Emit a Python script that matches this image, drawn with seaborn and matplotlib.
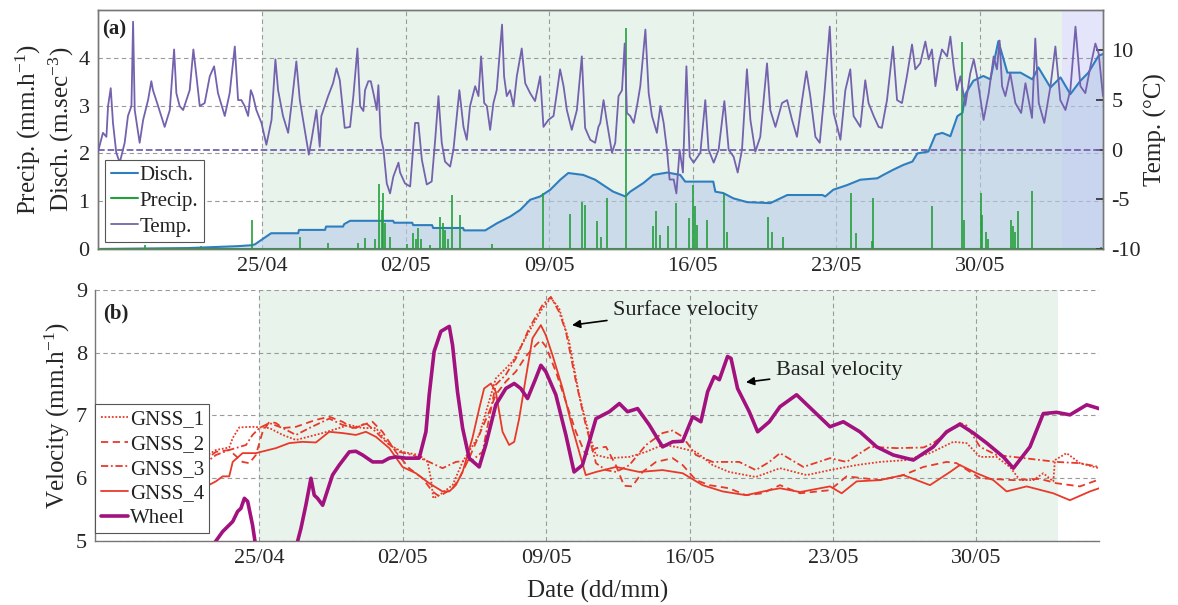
import numpy as np
import pandas as pd
import matplotlib
matplotlib.use("Agg")
import matplotlib.pyplot as plt
import matplotlib.dates as mdates
import seaborn as sns

# ---- data (time in days since 17/04 00:00) ----
t0 = pd.Timestamp("2018-04-17")

temp_day = [0, 0.24, 0.41, 0.49, 0.62, 0.73, 0.89, 1.06, 1.30, 1.46, 1.63, 1.71, 1.79, 2.03, 2.20, 2.44, 2.60, 2.68, 2.93, 3.25,
            3.50, 3.71, 3.82, 3.98, 4.15, 4.31, 4.47, 4.65, 4.80, 4.96, 5.20, 5.45, 5.66, 5.85, 6.18, 6.42, 6.67, 6.83, 6.99, 7.15,
            7.32, 7.45, 7.56, 7.72, 7.97, 8.21, 8.46, 8.65, 8.78, 9.02, 9.27, 9.46, 9.67, 9.84, 10.08, 10.28, 10.41, 10.65, 10.81, 10.89,
            11.22, 11.46, 11.63, 11.79, 12.03,
            12.29, 12.45, 12.65, 12.78, 12.94, 13.02, 13.18, 13.30, 13.46, 13.59, 13.67, 13.79, 13.92, 14.08, 14.24, 14.40, 14.65, 14.73, 14.97, 15.22,
            15.46, 15.62, 15.79, 16.03, 16.27, 16.44, 16.60, 16.76, 16.92, 17.17, 17.33, 17.46, 17.62, 17.82, 17.98, 18.14, 18.39, 18.55, 18.68, 18.83,
            18.96, 19.12, 19.28, 19.44, 19.70, 19.80, 19.93, 20.09, 20.26, 20.42, 20.66, 20.83, 21.07, 21.31, 21.56, 21.72, 21.96, 22.21, 22.37, 22.53,
            22.70, 22.86, 23.10, 23.35, 23.59, 23.75, 24.00, 24.24, 24.40,
            24.49, 24.65, 24.82, 25.06, 25.22, 25.38, 25.55, 25.68, 25.79, 25.95, 26.12, 26.28, 26.44, 26.69, 26.85, 27.01, 27.25, 27.42, 27.58, 27.74,
            27.87, 28.07, 28.20, 28.36, 28.52, 28.69, 28.85, 29.04, 29.37, 29.61, 29.77, 30.02, 30.26, 30.54, 30.75, 30.99, 31.19, 31.40, 31.64, 31.81,
            32.05, 32.29, 32.62, 32.78, 33.03, 33.35, 33.60, 33.84, 34.08, 34.33, 34.54, 34.73, 34.98, 35.19, 35.42, 35.68, 35.87, 36.20, 36.44,
            36.68, 36.84, 37.17, 37.41, 37.57, 37.82, 38.06, 38.22, 38.47, 38.76, 38.96, 39.20, 39.44, 39.69, 39.85, 40.09, 40.34, 40.50, 40.66, 40.83,
            40.99, 41.15, 41.40, 41.56, 41.72, 41.88, 42.05, 42.29, 42.53, 42.70, 42.86, 43.18, 43.43, 43.67, 43.83, 43.96, 44.08, 44.24, 44.48, 44.73,
            45.01, 45.22, 45.54, 45.70, 45.87, 46.14, 46.44, 46.68, 46.92, 47.17, 47.41, 47.66, 47.90, 48.14, 48.39, 48.63, 48.79, 49.0]
temp_c = [-0.2, 1.7, 1.3, 4.4, 6.2, 2.7, -0.3, -1.3, 0.7, 3.4, 4.4, 12.9, 4.0, 0.7, 3.0, 5.0, 6.9, 6.0, 4.4, 2.3,
          4.0, 10.1, 5.7, 4.4, 4.0, 5.0, 6.0, 10.1, 7.4, 4.4, 4.7, 7.4, 8.4, 5.7, 3.4, 5.7, 10.4, 5.0, 5.0, 4.4,
          3.4, 6.0, 5.4, 4.0, 2.7, 0.5, 3.0, 9.1, 6.0, 3.4, 1.7, 5.0, 8.9, 5.0, 2.0, -0.5, 1.0, 4.0, 0.3, 3.4,
          5.4, 6.7, 8.2, 7.0, 2.2,
          2.3, 5.4, 10.2, 4.4, 3.9, 6.0, 6.9, 6.9, 5.4, 4.0, 6.5, 1.3, 0, -3.4, -4.4, -2.7, -1.3, -2.3, -3.4, -3.7,
          2.7, 2.7, -1.0, -3.5, -3.2, 1.0, 5.4, 0.7, -1.2, -1.7, 0, 2.7, 6.0, 2.3, 1.0, 4.4, 6.4, 5.4, 9.4, 4.7,
          4.4, 2.0, 4.7, 6.0, 12.6, 7.4, 5.4, 6.0, 4.4, 7.4, 10.2, 6.7, 5.7, 4.9, 7.4, 2.3, 3.0, 3.4, 5.7, 8.1,
          6.4, 4.0, 2.0, 4.0, 9.4, 2.2, 1.0, 0.7, 2.3,
          2.7, 5.0, 2.7, -0.3, 0.7, 5.4, 6.0, 10.7, 3.7, 3.4, 2.7, 4.4, 6.4, 12.1, 5.7, 3.4, 1.7, 4.4, 2.7, 0,
          -3.0, -3.0, -4.4, 0, -2.3, 8.4, -0.7, -1.3, -0.3, 5.0, 0, -1.3, 0, 4.9, 0, -0.7, -2.3, 0, 8.1, 3.0,
          -0.2, 1.3, 8.7, 4.0, 2.3, 4.7, 5.0, 3.0, 1.3, 5.0, 7.9, 5.4, 1.3, 0.7, 5.7, 12.4, 3.7, 1.0, 6.0,
          8.1, 3.4, 2.3, 7.0, 4.7, 3.4, 2.3, 2.2, 5.0, 10.4, 5.0, 4.7, 7.4, 10.6, 8.1, 8.7, 10.9, 9.1, 10.1, 6.4,
          8.7, 10.1, 9.4, 11.4, 8.4, 6.0, 7.4, 4.5, 7.7, 9.1, 7.4, 3.0, 5.7, 9.4, 8.1, 11.0, 6.4, 5.4, 7.7, 4.7,
          3.7, 6.7, 3.2, 11.2, 4.7, 2.7, 6.4, 10.4, 5.0, 4.0, 6.0, 12.4, 6.4, 5.7, 8.4, 10.7, 9.7, 5.4]

disch_day = [0, 4.39, 6.83, 7.51, 7.66, 8.44, 9.76, 9.80, 11.07, 11.12, 11.95, 12.0, 12.29, 14.39, 14.44, 15.32, 15.37, 16.29, 16.34, 17.80,
             17.85, 18.88, 19.46, 20.10, 20.59, 21.07, 21.56, 22.05, 22.54, 22.93, 23.66, 24.24, 24.73, 25.12, 25.71, 25.95, 26.59, 27.07, 27.76, 28.39,
             28.63, 30.0, 30.1, 30.49, 30.98, 31.66, 32.78, 33.61, 35.32, 35.46, 35.85, 36.54, 37.17, 38.0, 38.29, 38.78, 39.27, 39.71, 39.95, 40.49,
             40.83, 41.17, 41.56, 41.90, 42.15, 42.29, 42.68, 43.17, 43.51, 43.90, 44.34, 44.98, 45.56, 45.85, 46.44, 46.93, 47.41, 47.90, 48.29, 48.78, 49.0]
disch_q = [0, 0.02, 0.06, 0.08, 0.1, 0.33, 0.33, 0.4, 0.4, 0.47, 0.47, 0.52, 0.59, 0.59, 0.55, 0.55, 0.5, 0.5, 0.44, 0.44,
           0.39, 0.39, 0.54, 0.68, 0.82, 1.03, 1.1, 1.24, 1.45, 1.59, 1.55, 1.45, 1.31, 1.2, 1.1, 1.2, 1.38, 1.55, 1.6, 1.55,
           1.41, 1.41, 1.2, 1.17, 1.06, 0.98, 0.96, 1.13, 1.13, 1.1, 1.24, 1.34, 1.45, 1.48, 1.55, 1.66, 1.76, 1.83, 2.0, 2.04,
           2.39, 2.43, 2.36, 2.78, 2.85, 3.24, 3.52, 3.62, 3.55, 4.35, 3.69, 3.69, 3.55, 3.80, 3.38, 3.59, 3.24, 3.52, 3.69, 4.04, 4.08]

precip_day = [2.29, 5.02, 7.51, 9.85, 11.22, 12.68, 13.02, 13.51, 13.71, 13.85, 13.90, 14.0, 14.24, 15.07, 15.37, 15.51, 15.61, 15.76, 16.2, 16.68,
              16.83, 16.93, 17.07, 17.27, 17.66, 19.22, 21.71, 23.02, 23.61, 23.76, 24.34, 24.54, 24.83, 25.76, 27.07, 27.22, 27.41, 27.80, 28.20, 28.83,
              29.02, 29.12, 29.22, 29.71, 30.54, 30.68, 32.68, 32.88, 33.41, 36.73, 36.98, 37.76, 37.80, 40.68, 42.15, 42.24, 43.07, 43.12, 43.32, 43.41,
              44.54, 44.63, 44.73, 44.88, 45.56, 48.88]
precip_mm = [0.08, 0.06, 0.6, 0.25, 0.12, 0.12, 0.24, 0.2, 1.36, 0.82, 1.18, 0.54, 0.25, 0.1, 0.33, 0.2, 0.44, 0.2, 0.08, 0.68,
             0.54, 0.4, 0.2, 1.14, 0.71, 0.1, 1.17, 0.73, 0.99, 0.92, 0.59, 0.26, 1.07, 4.62, 0.48, 0.79, 0.3, 0.48, 0.97, 0.65,
             1.34, 0.9, 0.5, 0.6, 1.15, 0.36, 0.67, 0.35, 0.26, 1.17, 0.33, 0.16, 1.06, 0.9, 4.34, 0.6, 1.17, 0.71, 0.36, 0.2,
             0.6, 0.48, 0.36, 0.79, 1.22, 0.05]

gnss1_day = [5.23, 5.88, 6.53, 6.70, 7.02, 7.67, 8.49, 9.14, 9.79, 11.09, 12.39, 13.04, 13.69, 14.34, 14.99, 15.80, 16.21, 16.37, 16.49, 16.78,
             17.43, 17.92, 18.73, 19.54, 20.36, 21.17, 21.82, 22.23, 22.63, 23.12, 23.61, 24.10, 24.43, 25.08, 26.06, 26.87, 27.68, 28.33, 29.31, 30.12,
             30.93, 32.23, 33.41, 34.71, 35.85, 37.15, 38.29, 39.59, 40.73, 41.87, 42.52, 43.17, 43.98, 44.63, 45.12, 45.77, 46.26, 46.75, 46.83, 47.40,
             48.05, 48.98]
gnss1_v = [6.32, 6.45, 6.49, 6.64, 6.81, 6.82, 6.80, 6.69, 6.61, 6.72, 6.85, 6.80, 6.80, 6.53, 6.42, 6.37, 6.26, 6.00, 5.68, 5.73,
           5.89, 6.26, 6.69, 7.59, 7.86, 8.34, 8.71, 8.87, 8.71, 8.18, 7.33, 6.69, 6.37, 6.32, 6.34, 6.42, 6.53, 6.50, 6.42, 6.21,
           6.10, 6.02, 6.16, 6.05, 6.13, 6.21, 6.26, 6.29, 6.40, 6.58, 6.56, 6.34, 6.34, 6.18, 5.97, 5.97, 6.08, 5.95, 6.29, 6.40,
           6.24, 6.16]

gnss2_day = [5.23, 5.88, 6.53, 7.18, 7.51, 7.83, 8.16, 8.49, 8.81, 9.14, 9.79, 10.76, 11.41, 12.06, 12.55, 13.04, 13.52, 14.01, 14.66, 15.31,
             15.96, 16.45, 16.78, 17.43, 17.76, 18.24, 18.73, 19.22, 19.54, 20.03, 20.52, 21.00, 21.49, 21.74, 21.98, 22.47, 22.96, 23.45, 23.93, 24.43,
             24.92, 25.41, 25.80, 26.20, 26.70, 27.36, 28.17, 28.66, 29.31, 29.96, 30.93, 31.75, 32.56, 33.41, 34.39, 35.85, 36.66, 38.29, 39.43, 40.41,
             41.54, 42.03, 43.17, 44.80, 46.10, 46.91, 48.05, 48.98]
gnss2_v = [6.26, 6.42, 6.45, 6.26, 6.24, 6.37, 6.74, 6.90, 6.88, 6.80, 6.82, 6.93, 6.98, 6.90, 6.80, 6.85, 6.90, 6.74, 6.42, 6.16,
           6.00, 5.79, 5.71, 5.84, 6.00, 6.32, 6.69, 7.06, 7.33, 7.54, 7.70, 7.94, 8.12, 8.20, 8.10, 7.70, 7.22, 6.74, 6.37, 6.48,
           6.50, 6.20, 5.88, 5.87, 6.10, 6.26, 6.32, 6.21, 5.97, 5.89, 5.84, 5.73, 5.76, 5.89, 5.76, 5.81, 6.03, 5.97, 6.05, 6.18,
           6.26, 6.24, 6.00, 5.97, 5.99, 5.92, 5.87, 5.98]

gnss3_day = [5.23, 5.88, 6.53, 7.35, 7.67, 8.00, 8.49, 9.14, 9.79, 10.44, 11.41, 12.06, 12.71, 13.20, 13.69, 14.18, 14.83, 15.48, 16.29, 16.94,
             17.59, 18.40, 18.89, 19.54, 20.03, 20.52, 21.17, 21.82, 22.23, 22.63, 22.96, 23.45, 23.93, 24.43, 24.92, 25.41, 26.06, 26.87, 27.68, 28.17,
             28.66, 29.31, 30.12, 31.42, 32.23, 32.89, 33.41, 34.55, 35.85, 36.66, 37.80, 39.10, 40.41, 40.89, 41.54, 42.19, 42.52, 43.17, 43.98, 44.80,
             46.91, 48.05, 48.98]
gnss3_v = [6.21, 6.37, 6.45, 6.53, 6.69, 6.80, 6.88, 6.80, 6.69, 6.80, 6.95, 6.85, 6.80, 6.88, 6.74, 6.58, 6.42, 6.37, 6.26, 6.16,
           6.26, 6.29, 6.42, 7.49, 7.65, 7.91, 8.39, 8.76, 8.89, 8.65, 8.34, 7.54, 6.85, 6.24, 6.13, 6.10, 6.21, 6.53, 6.72, 6.76,
           6.66, 6.37, 6.26, 6.26, 6.13, 6.26, 6.40, 6.18, 6.32, 6.26, 6.50, 6.48, 6.49, 6.56, 6.72, 6.88, 6.84, 6.50, 6.37, 6.34,
           6.26, 6.24, 6.18]

gnss4_day = [5.23, 5.88, 6.21, 6.53, 6.70, 7.18, 7.83, 8.81, 9.46, 10.11, 10.76, 11.41, 12.06, 12.71, 13.20, 13.69, 14.34, 14.99, 15.64, 16.29,
             16.94, 17.27, 17.59, 17.92, 18.40, 18.73, 18.97, 19.30, 19.54, 19.87, 20.19, 20.44, 20.68, 21.00, 21.33, 21.74, 21.98, 22.31, 22.80, 23.28,
             23.61, 23.93, 24.43, 25.41, 26.54, 27.68, 28.66, 29.63, 30.61, 31.75, 32.89, 33.41, 34.39, 35.85, 36.42, 37.15, 38.29, 39.43, 40.73, 41.71,
             42.19, 43.01, 43.82, 44.47, 45.45, 46.75, 47.56, 48.54, 48.98]
gnss4_v = [5.84, 5.95, 6.03, 6.03, 6.26, 6.40, 6.40, 6.48, 6.56, 6.58, 6.57, 6.74, 6.72, 6.69, 6.74, 6.66, 6.48, 6.18, 6.08, 5.92,
           5.79, 5.79, 5.89, 6.10, 6.64, 7.11, 7.43, 7.51, 7.38, 6.74, 6.53, 6.58, 6.95, 7.59, 8.23, 8.44, 8.28, 7.96, 7.43, 6.80,
           6.42, 6.05, 6.10, 6.18, 6.10, 6.13, 6.08, 5.89, 5.79, 5.73, 5.81, 5.84, 5.78, 5.87, 5.76, 5.95, 5.97, 6.05, 5.89, 6.10,
           6.21, 6.08, 5.97, 5.79, 5.87, 5.76, 5.65, 5.79, 5.84]

wheel_day = [5.60, 5.88, 6.21, 6.70, 6.94, 7.10, 7.27, 7.43, 7.67, 7.83, 8.50, 9.30, 9.87, 10.03, 10.27, 10.52, 10.68, 10.84, 11.09, 11.25,
             11.57, 11.90, 12.39, 12.71, 13.04, 13.53, 14.01, 14.34, 14.66, 15.15, 15.80, 16.13, 16.29, 16.53, 16.86, 17.27, 17.43, 17.67, 17.92, 18.24,
             18.73, 19.05, 19.54, 20.03, 20.44, 20.76, 21.09, 21.49, 21.74, 21.98, 22.47, 22.96, 23.36, 23.77, 24.43, 25.08, 25.57, 25.97, 26.46, 27.03,
             27.68, 28.17, 28.66, 29.15, 29.55, 29.88, 30.20, 30.45, 30.85, 31.02, 31.34, 31.91, 32.32, 32.89, 33.41, 34.22, 35.85, 36.50, 37.31, 38.13,
             38.94, 39.92, 40.89, 41.54, 42.19, 42.85, 43.50, 44.31, 44.80, 45.61, 46.26, 46.91, 47.56, 48.38, 48.98]
wheel_v = [4.85, 5.00, 5.15, 5.31, 5.47, 5.52, 5.68, 5.63, 5.25, 4.90, 4.30, 4.50, 5.00, 5.20, 5.57, 6.00, 5.73, 5.68, 5.57, 5.73,
           6.05, 6.21, 6.42, 6.43, 6.37, 6.26, 6.26, 6.32, 6.34, 6.32, 6.32, 6.74, 7.33, 8.02, 8.34, 8.42, 8.12, 7.38, 6.80, 6.32,
           6.18, 6.53, 7.17, 7.43, 7.51, 7.43, 7.27, 7.59, 7.80, 7.70, 7.33, 6.69, 6.10, 6.21, 6.95, 7.06, 7.19, 7.06, 7.11, 6.85,
           6.50, 6.58, 6.59, 6.98, 6.90, 7.38, 7.62, 7.57, 7.94, 7.91, 7.43, 7.06, 6.74, 6.90, 7.14, 7.33, 6.82, 6.90, 6.74, 6.50,
           6.37, 6.29, 6.50, 6.74, 6.86, 6.72, 6.56, 6.34, 6.16, 6.50, 7.03, 7.05, 7.01, 7.17, 7.11]

shade_days = [8, 47, 49]  # green campaign window, then end of record


def to_time(days):
    return t0 + pd.to_timedelta(np.asarray(days, dtype=float), unit="D")


sns.set_theme(style="white")
serif = ["Liberation Serif", "DejaVu Serif"]
plt.rcParams["font.family"] = serif
plt.rcParams["mathtext.fontset"] = "custom"
plt.rcParams["mathtext.rm"] = "Liberation Serif"
plt.rcParams["mathtext.it"] = "Liberation Serif:italic"
plt.rcParams["text.color"] = "#222222"
plt.rcParams["axes.unicode_minus"] = False

c_disch = "#2e7ebf"
c_fill = "#b8cbe8"
c_precip = "#23a03c"
c_temp = "#7462ae"
c_gnss = "#e8392b"
c_wheel = "#a3117e"
c_green = "#e8f4eb"
c_lav = "#e4e4fb"
c_grid = "#9a9a9a"

fig = plt.figure(figsize=(11.78, 6.05), dpi=100)
ax = fig.add_axes([0.0832, 0.5884, 0.8531, 0.3950])
axb = fig.add_axes([0.0810, 0.1058, 0.8523, 0.4149])

xlim = (to_time([0])[0], to_time([49])[0])
ticks = pd.date_range("2018-04-25", periods=6, freq="7D")

# ---------- panel (a) ----------
shade = to_time(shade_days)
ax.axvspan(shade[0], shade[1], color=c_green, zorder=0, lw=0)
ax.axvspan(shade[1], shade[2], color=c_lav, zorder=0, lw=0)
ax.fill_between(to_time(disch_day), disch_q, color=c_fill, alpha=0.6, lw=0, zorder=1)
sns.lineplot(x=to_time(disch_day), y=disch_q, ax=ax, color=c_disch, lw=1.5, label="Disch.", zorder=3)
ax.axhline(0, color=c_precip, lw=1.5, zorder=3)
ax.vlines(to_time(precip_day), 0, precip_mm, color=c_precip, lw=1.2, zorder=3, label="Precip.")
ax.set_xlim(xlim)
ax.set_ylim(0, 5)
ax.set_yticks([0, 1, 2, 3, 4])

ax2 = ax.twinx()
sns.lineplot(x=to_time(temp_day), y=temp_c, ax=ax2, color=c_temp, lw=1.3, zorder=4)
ax2.axhline(0, color=c_temp, ls="--", lw=1.3)
ax2.set_ylim(-10, 14.07)
ax2.set_yticks([-10, -5, 0, 5, 10])
ax2.set_ylabel("Temp. (°C)", fontsize=18, labelpad=2)
ax2.tick_params(axis="y", labelsize=16, direction="in", length=5, color="#333333", pad=6)
ax2.set_xlim(xlim)

ax.set_xticks(ticks)
ax.xaxis.set_major_formatter(mdates.DateFormatter("%d/%m"))
ax.grid(True, color=c_grid, ls=(0, (4, 3)), lw=0.8)
ax.set_axisbelow(True)
ax.set_ylabel("Precip. (mm.h$^{-1}$)\nDisch. (m.sec$^{-3}$)", fontsize=18, labelpad=2, linespacing=1.15)
ax.set_xlabel("")
ax.tick_params(labelsize=16, direction="in", length=0, pad=6)
for sp in list(ax.spines.values()) + list(ax2.spines.values()):
    sp.set_color("#777777")
    sp.set_linewidth(1.0)

handles = [ax.get_lines()[0],
           plt.Line2D([], [], color=c_precip, lw=1.5),
           plt.Line2D([], [], color=c_temp, lw=1.3)]
leg = ax2.legend(handles, ["Disch.", "Precip.", "Temp."], loc="lower left", fontsize=15,
                 fancybox=False, framealpha=1, edgecolor="#555555", borderpad=0.25,
                 labelspacing=0.3, handlelength=1.3, handletextpad=0.1, borderaxespad=0.35)
leg.get_frame().set_linewidth(0.8)
if ax.get_legend() is not None:
    ax.get_legend().remove()
ax.text(0.004, 0.92, "(a)", transform=ax.transAxes, fontsize=15, fontweight="bold", va="center", zorder=10)

# ---------- panel (b) ----------
axb.axvspan(shade[0], shade[1], color=c_green, zorder=0, lw=0)
series = [(gnss1_day, gnss1_v, "GNSS_1", (0, (1, 1)), 1.3, c_gnss),
          (gnss2_day, gnss2_v, "GNSS_2", (0, (4, 2.5)), 1.3, c_gnss),
          (gnss3_day, gnss3_v, "GNSS_3", (0, (4, 1.5, 1, 1.5)), 1.3, c_gnss),
          (gnss4_day, gnss4_v, "GNSS_4", "-", 1.3, c_gnss),
          (wheel_day, wheel_v, "Wheel", "-", 2.6, c_wheel)]
for d, v, lab, ls, lw, col in series:
    sns.lineplot(x=to_time(d), y=v, ax=axb, color=col, lw=lw, linestyle=ls, label=lab, zorder=3)

axb.set_xlim(xlim)
axb.set_ylim(5, 9)
axb.set_yticks([5, 6, 7, 8, 9])
axb.set_xticks(ticks)
axb.xaxis.set_major_formatter(mdates.DateFormatter("%d/%m"))
axb.grid(True, color=c_grid, ls=(0, (4, 3)), lw=0.8)
axb.set_axisbelow(True)
axb.set_ylabel("Velocity (mm.h$^{-1}$)", fontsize=18, labelpad=3)
axb.set_xlabel("Date (dd/mm)", fontsize=18, labelpad=8)
axb.tick_params(labelsize=16, direction="in", length=0, pad=6)
for name in ["top", "right"]:
    axb.spines[name].set_visible(False)
for name in ["left", "bottom"]:
    axb.spines[name].set_color("#777777")
    axb.spines[name].set_linewidth(1.0)

legb = axb.legend(loc="lower left", bbox_to_anchor=(0.0, 0.03), fontsize=15, fancybox=False,
                  framealpha=1, edgecolor="#555555", borderpad=0.25, labelspacing=0.25,
                  handlelength=1.3, handletextpad=0.1, borderaxespad=0.0)
legb.get_frame().set_linewidth(0.8)
axb.text(0.0076, 0.908, "(b)", transform=axb.transAxes, fontsize=15, fontweight="bold", va="center", zorder=10)

arrow = dict(arrowstyle="-|>", color="black", lw=1.2, mutation_scale=12, shrinkA=2, shrinkB=0)
axb.annotate("Surface velocity", xy=(to_time([23.26])[0], 8.44), xytext=(to_time([25.26])[0], 8.68),
             fontsize=16, va="center", ha="left", arrowprops=arrow)
axb.annotate("Basal velocity", xy=(to_time([31.75])[0], 7.53), xytext=(to_time([33.2])[0], 7.72),
             fontsize=16, va="center", ha="left", arrowprops=arrow)

fig.savefig("out.png", dpi=100)
